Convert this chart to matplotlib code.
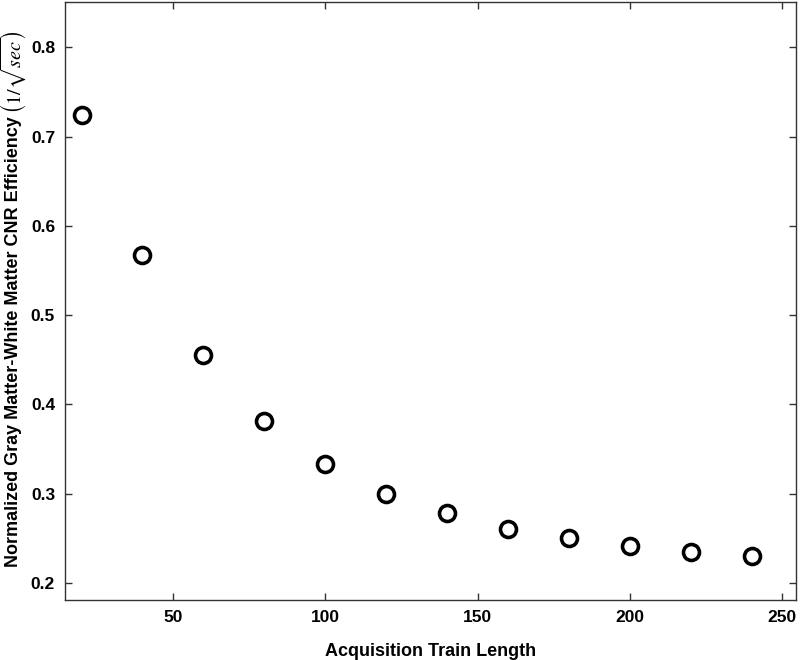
import matplotlib
matplotlib.use("Agg")
import matplotlib.pyplot as plt

# data
train_length = [20, 40, 60, 80, 100, 120, 140, 160, 180, 200, 220, 240]
cnr_eff = [0.724, 0.567, 0.456, 0.382, 0.333, 0.300, 0.278, 0.261, 0.250, 0.241, 0.235, 0.230]

plt.rcParams['font.family'] = ['Liberation Sans', 'DejaVu Sans']
plt.rcParams['mathtext.fontset'] = 'stix'

fig = plt.figure(figsize=(8, 6.6), dpi=100)
ax = fig.add_axes([0.081, 0.091, 0.914, 0.906])

ax.plot(train_length, cnr_eff, 'o', markersize=11.5, markerfacecolor='none',
        markeredgecolor='black', markeredgewidth=2.6)

ax.set_xlim(14.5, 254.5)
ax.set_ylim(0.181, 0.851)
ax.set_xticks([50, 100, 150, 200, 250])
ax.set_yticks([0.2, 0.3, 0.4, 0.5, 0.6, 0.7, 0.8])

ax.tick_params(direction='in', length=5, width=1, top=True, right=True,
               labelsize=12.5, color='#333333')
ax.tick_params(axis='y', pad=7)
ax.tick_params(axis='x', pad=7)
for lbl in ax.get_xticklabels() + ax.get_yticklabels():
    lbl.set_fontweight('bold')
for s in ax.spines.values():
    s.set_color('#333333')
    s.set_linewidth(1)

ax.set_xlabel('Acquisition Train Length', fontsize=13, fontweight='bold', labelpad=13)

# y label: plain text part plus a larger math part stacked above it
fig.text(0.0175, 1 - 116 / 660, 'Normalized Gray Matter-White Matter CNR Efficiency',
         rotation=90, ha='center', va='top', fontsize=13, fontweight='bold')
fig.text(0.0175, 1 - 114 / 660, r'$\left(1/\sqrt{sec}\right)$',
         rotation=90, ha='center', va='bottom', fontsize=14.5)

fig.savefig('out.png', dpi=100)
